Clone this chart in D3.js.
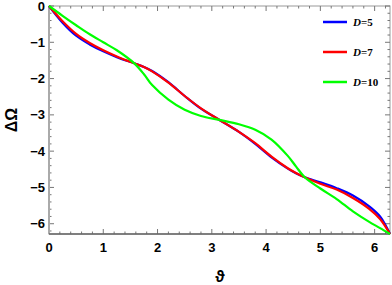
<!DOCTYPE html>
<html>
<head>
<meta charset="utf-8">
<script src="https://d3js.org/d3.v7.min.js"></script>
<style>
body { margin: 0; background: #fff; }
</style>
</head>
<body>
<div id="chart"></div>
<script>
// theta values and the three series
var theta = [0, 0.25, 0.5, 0.75, 1.0, 1.25, 1.571, 1.75, 1.9, 2.2, 2.5, 2.8, 3.1416,
             3.5, 3.8, 4.1, 4.4, 4.55, 4.712, 5.0, 5.3, 5.6, 5.9, 6.1, 6.2832];
var d5  = [0, -0.46, -0.82, -1.06, -1.25, -1.41, -1.58, -1.68, -1.79, -2.10, -2.48, -2.83, -3.14,
           -3.47, -3.80, -4.17, -4.48, -4.61, -4.72, -4.86, -5.02, -5.22, -5.52, -5.80, -6.2832];
var d7  = [0, -0.42, -0.77, -1.02, -1.22, -1.39, -1.58, -1.68, -1.80, -2.11, -2.48, -2.82, -3.14,
           -3.47, -3.78, -4.15, -4.47, -4.60, -4.72, -4.90, -5.06, -5.29, -5.59, -5.87, -6.2832];
var d10 = [0, -0.27, -0.53, -0.78, -1.00, -1.22, -1.58, -1.88, -2.18, -2.58, -2.86, -3.03, -3.14,
           -3.26, -3.41, -3.68, -4.13, -4.42, -4.72, -5.03, -5.32, -5.66, -5.95, -6.12, -6.2832];
var seriesNames = ["5", "7", "10"];
var seriesColors = ["#0000ff", "#ff0000", "#00ff00"];
var xTicks = [0, 1, 2, 3, 4, 5, 6];
var yTicks = [0, -1, -2, -3, -4, -5, -6];

var w = 392, h = 285;
var padL = 49, padR = 390, padT = 6, padB = 234;

var svg = d3.select("#chart").append("svg")
	.attr("width", w)
	.attr("height", h)
	.style("font-family", "'Liberation Sans', Arial, sans-serif");

var x = d3.scaleLinear().domain([0, 2 * Math.PI]).range([padL, padR]);
var y = d3.scaleLinear().domain([0, -2 * Math.PI]).range([padT, padB]);

var minorX = d3.range(0, 6.3, 0.2).filter(function(v) { return Math.abs(v - Math.round(v)) > 0.01; });
var minorY = d3.range(0, -6.3, -0.2).filter(function(v) { return Math.abs(v - Math.round(v)) > 0.01; });

// frame
svg.append("rect")
	.attr("x", padL).attr("y", padT)
	.attr("width", padR - padL).attr("height", padB - padT)
	.attr("fill", "none").attr("stroke", "#999").attr("stroke-width", 1);

// ticks on all four sides, pointing in
var tk = svg.append("g").attr("stroke", "#777").attr("stroke-width", 1);
function xtick(v, len) {
	tk.append("line").attr("x1", x(v)).attr("x2", x(v)).attr("y1", padB).attr("y2", padB - len);
	tk.append("line").attr("x1", x(v)).attr("x2", x(v)).attr("y1", padT).attr("y2", padT + len);
}
function ytick(v, len) {
	tk.append("line").attr("y1", y(v)).attr("y2", y(v)).attr("x1", padL).attr("x2", padL + len);
	tk.append("line").attr("y1", y(v)).attr("y2", y(v)).attr("x1", padR).attr("x2", padR - len);
}
xTicks.forEach(function(v) { xtick(v, 5); });
minorX.forEach(function(v) { xtick(v, 2.5); });
yTicks.forEach(function(v) { ytick(v, 5); });
minorY.forEach(function(v) { ytick(v, 2.5); });

// axis lines
svg.append("line").attr("x1", padL).attr("x2", padL).attr("y1", padT).attr("y2", padB)
	.attr("stroke", "#aaa").attr("stroke-width", 2);
svg.append("line").attr("x1", padL).attr("x2", padR).attr("y1", padB).attr("y2", padB)
	.attr("stroke", "#666").attr("stroke-width", 1.5);

// tick labels
svg.selectAll(".xl").data(xTicks).enter().append("text")
	.attr("x", function(d) { return x(d); })
	.attr("y", 252)
	.attr("text-anchor", "middle")
	.attr("font-size", 13).attr("font-weight", "bold")
	.text(function(d) { return d; });
svg.selectAll(".yl").data(yTicks).enter().append("text")
	.attr("x", 45)
	.attr("y", function(d) { return y(d) + 4.5; })
	.attr("text-anchor", "end")
	.attr("font-size", 13).attr("font-weight", "bold")
	.text(function(d) { return d === 0 ? "0" : "\u2212" + (-d); });

// axis titles
svg.append("text")
	.attr("transform", "translate(17,120) rotate(-90)")
	.attr("text-anchor", "middle")
	.attr("font-size", 16).attr("font-weight", "bold")
	.text("\u0394\u03A9");
svg.append("text")
	.attr("x", 220).attr("y", 282)
	.attr("text-anchor", "middle")
	.attr("font-size", 16).attr("font-weight", "bold")
	.text("\u03D1");

// curves
var line = d3.line().curve(d3.curveCatmullRom.alpha(0.5))
	.x(function(d) { return x(d[0]); })
	.y(function(d) { return y(d[1]); });
[d5, d7, d10].forEach(function(s, i) {
	svg.append("path")
		.datum(theta.map(function(t, j) { return [t, s[j]]; }))
		.attr("fill", "none")
		.attr("stroke", seriesColors[i])
		.attr("stroke-width", 2.2)
		.attr("d", line);
});

// legend
var lg = svg.append("g");
seriesNames.forEach(function(n, i) {
	var yy = 22 + i * 30;
	lg.append("line").attr("x1", 323).attr("x2", 347).attr("y1", yy).attr("y2", yy)
		.attr("stroke", seriesColors[i]).attr("stroke-width", 2.5);
	var t = lg.append("text").attr("x", 353).attr("y", yy + 4)
		.attr("font-family", "'Liberation Serif', 'Times New Roman', serif")
		.attr("font-size", 11).attr("font-weight", "bold");
	t.append("tspan").attr("font-style", "italic").text("D");
	t.append("tspan").text("=" + n);
});
</script>
</body>
</html>
